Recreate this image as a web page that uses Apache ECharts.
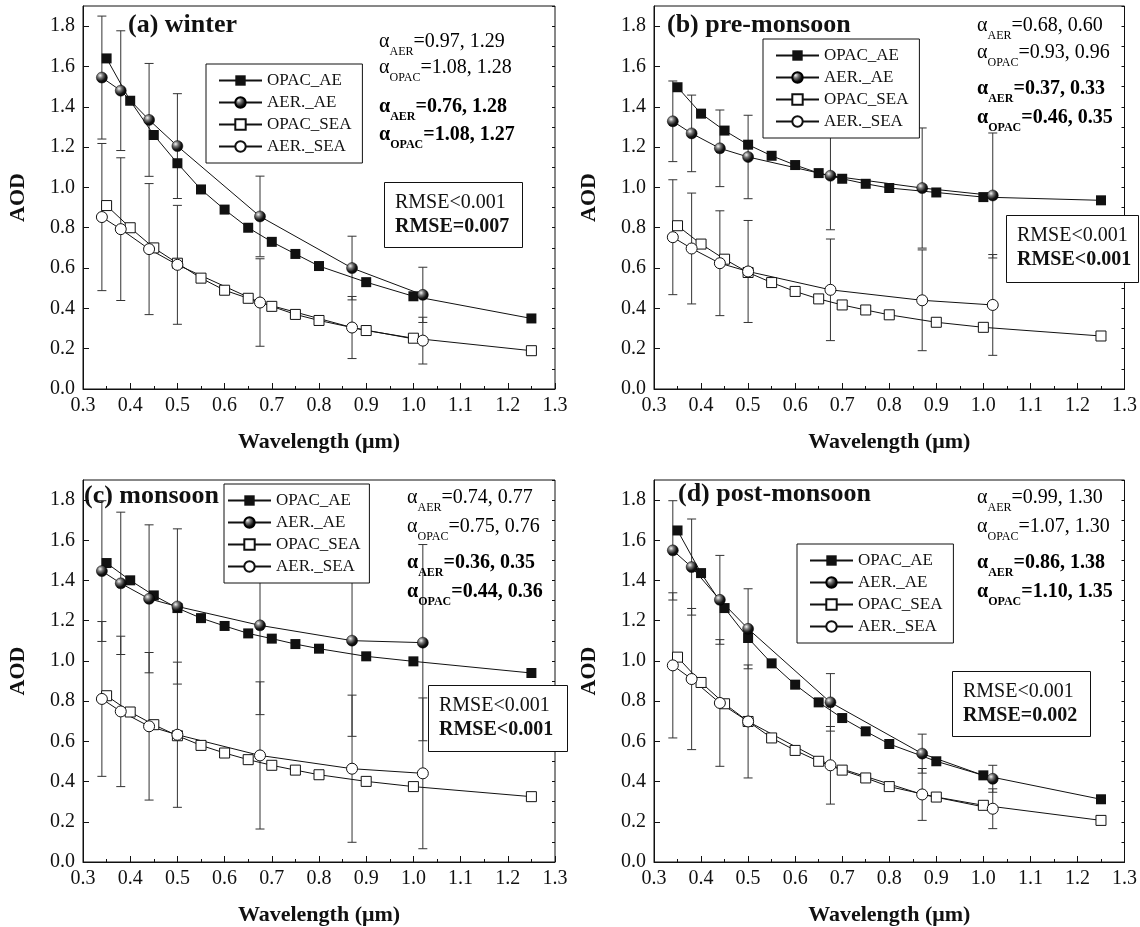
<!DOCTYPE html>
<html>
<head>
<meta charset="utf-8">
<title>AOD vs wavelength</title>
<script src="https://cdn.jsdelivr.net/npm/echarts@6/dist/echarts.min.js"></script>
<style>
  html, body { margin: 0; padding: 0; background: #fff; }
  #chart { width: 1140px; height: 927px; }
</style>
</head>
<body>
<div id="chart"></div>
<script>
// wavelengths (um)
var opacWl = [0.35, 0.4, 0.45, 0.5, 0.55, 0.6, 0.65, 0.7, 0.75, 0.8, 0.9, 1.0, 1.25];
var aerWl = [0.34, 0.38, 0.44, 0.5, 0.675, 0.87, 1.02];

// (a) winter
var winterOpacAE = [1.64, 1.43, 1.26, 1.12, 0.99, 0.89, 0.80, 0.73, 0.67, 0.61, 0.53, 0.46, 0.35];
var winterAerAE = [1.545, 1.48, 1.335, 1.205, 0.856, 0.60, 0.467];
var winterAerAEErr = [0.305, 0.297, 0.28, 0.26, 0.20, 0.158, 0.137];
var winterOpacSEA = [0.91, 0.80, 0.70, 0.624, 0.55, 0.49, 0.45, 0.41, 0.37, 0.34, 0.29, 0.252, 0.19];
var winterAerSEA = [0.853, 0.793, 0.694, 0.616, 0.429, 0.305, 0.240];
var winterAerSEAErr = [0.365, 0.354, 0.325, 0.295, 0.217, 0.154, 0.116];

// (b) pre-monsoon
var preOpacAE = [1.497, 1.366, 1.282, 1.212, 1.157, 1.111, 1.071, 1.043, 1.018, 0.997, 0.975, 0.952, 0.936];
var preAerAE = [1.328, 1.268, 1.194, 1.151, 1.058, 0.997, 0.960];
var preAerAEErr = [0.20, 0.19, 0.19, 0.207, 0.268, 0.298, 0.31];
var preOpacSEA = [0.81, 0.719, 0.644, 0.578, 0.528, 0.484, 0.447, 0.417, 0.392, 0.368, 0.331, 0.306, 0.263];
var preAerSEA = [0.753, 0.697, 0.624, 0.583, 0.492, 0.440, 0.417];
var preAerSEAErr = [0.285, 0.275, 0.26, 0.253, 0.252, 0.25, 0.25];

// (c) monsoon
var monOpacAE = [1.487, 1.401, 1.326, 1.263, 1.213, 1.174, 1.137, 1.111, 1.084, 1.061, 1.023, 0.998, 0.940];
var monAerAE = [1.447, 1.386, 1.309, 1.271, 1.177, 1.101, 1.091];
var monAerAEErr = [0.35, 0.354, 0.368, 0.386, 0.444, 0.476, 0.488];
var monOpacSEA = [0.827, 0.746, 0.683, 0.628, 0.580, 0.542, 0.509, 0.481, 0.457, 0.434, 0.401, 0.375, 0.325];
var monAerSEA = [0.811, 0.749, 0.675, 0.633, 0.530, 0.464, 0.441];
var monAerSEAErr = [0.385, 0.374, 0.367, 0.361, 0.366, 0.366, 0.375];

// (d) post-monsoon
var postOpacAE = [1.649, 1.437, 1.263, 1.114, 0.988, 0.882, 0.794, 0.716, 0.650, 0.587, 0.501, 0.431, 0.312];
var postAerAE = [1.550, 1.467, 1.304, 1.160, 0.794, 0.539, 0.414];
var postAerAEErr = [0.247, 0.239, 0.221, 0.199, 0.143, 0.097, 0.067];
var postOpacSEA = [1.019, 0.893, 0.787, 0.699, 0.617, 0.555, 0.501, 0.457, 0.418, 0.375, 0.323, 0.282, 0.207];
var postAerSEA = [0.978, 0.910, 0.791, 0.699, 0.481, 0.336, 0.265];
var postAerSEAErr = [0.361, 0.351, 0.315, 0.281, 0.193, 0.129, 0.099];

// annotation texts
var panelTitles = ['(a) winter', '(b) pre-monsoon', '(c) monsoon', '(d) post-monsoon'];
var alphaAer = ['0.97, 1.29', '0.68, 0.60', '0.74, 0.77', '0.99, 1.30'];
var alphaOpac = ['1.08, 1.28', '0.93, 0.96', '0.75, 0.76', '1.07, 1.30'];
var alphaAerBold = ['0.76, 1.28', '0.37, 0.33', '0.36, 0.35', '0.86, 1.38'];
var alphaOpacBold = ['1.08, 1.27', '0.46, 0.35', '0.44, 0.36', '1.10, 1.35'];
var rmseNormal = ['RMSE<0.001', 'RMSE<0.001', 'RMSE<0.001', 'RMSE<0.001'];
var rmseBold = ['RMSE=0.007', 'RMSE<0.001', 'RMSE<0.001', 'RMSE=0.002'];
var seriesNames = ['OPAC_AE', 'AER._AE', 'OPAC_SEA', 'AER._SEA'];

var panels = [
  { opacAE: winterOpacAE, aerAE: winterAerAE, aerAEErr: winterAerAEErr, opacSEA: winterOpacSEA, aerSEA: winterAerSEA, aerSEAErr: winterAerSEAErr },
  { opacAE: preOpacAE, aerAE: preAerAE, aerAEErr: preAerAEErr, opacSEA: preOpacSEA, aerSEA: preAerSEA, aerSEAErr: preAerSEAErr },
  { opacAE: monOpacAE, aerAE: monAerAE, aerAEErr: monAerAEErr, opacSEA: monOpacSEA, aerSEA: monAerSEA, aerSEAErr: monAerSEAErr },
  { opacAE: postOpacAE, aerAE: postAerAE, aerAEErr: postAerAEErr, opacSEA: postOpacSEA, aerSEA: postAerSEA, aerSEAErr: postAerSEAErr }
];

// layout of each panel (pixels)
var layout = [
  { grid: [83, 6, 472, 383], title: [128, 26], legend: [206, 64], legendPad: [8, 11, 8, 12], alphaX: 379, alphaY: [42, 68, 107, 135], rmse: [384, 182, 138, 65] },
  { grid: [654, 6, 471, 383], title: [667, 26], legend: [763, 39], legendPad: [8, 11, 8, 12], alphaX: 977, alphaY: [26, 53, 89, 118], rmse: [1006, 215, 132, 67] },
  { grid: [83, 480, 472, 382], title: [84, 497], legend: [224, 484], legendPad: [8, 9, 8, 3], alphaX: 407, alphaY: [498, 527, 563, 592], rmse: [428, 685, 139, 66] },
  { grid: [654, 480, 471, 382], title: [678, 495], legend: [797, 544], legendPad: [8, 11, 8, 12], alphaX: 977, alphaY: [498, 527, 563, 592], rmse: [952, 671, 138, 65] }
];

var FONT = 'Liberation Serif';
var INK = '#111';
var sphere = {
  type: 'radial', x: 0.35, y: 0.32, r: 0.75,
  colorStops: [
    { offset: 0, color: '#f4f4f4' },
    { offset: 0.3, color: '#777' },
    { offset: 0.65, color: '#151515' },
    { offset: 1, color: '#000' }
  ]
};

function pairs(xs, ys) {
  return xs.map(function (x, i) { return [x, ys[i]]; });
}
function errRows(xs, ys, es) {
  return xs.map(function (x, i) { return [x, ys[i] - es[i], ys[i] + es[i]]; });
}

function renderErr(params, api) {
  var x = api.value(0);
  var lo = api.coord([x, api.value(1)]);
  var hi = api.coord([x, api.value(2)]);
  var w = 4.5;
  var st = { stroke: '#333', lineWidth: 1 };
  return {
    type: 'group',
    children: [
      { type: 'line', shape: { x1: lo[0], y1: lo[1], x2: hi[0], y2: hi[1] }, style: st },
      { type: 'line', shape: { x1: lo[0] - w, y1: lo[1], x2: lo[0] + w, y2: lo[1] }, style: st },
      { type: 'line', shape: { x1: hi[0] - w, y1: hi[1], x2: hi[0] + w, y2: hi[1] }, style: st }
    ]
  };
}

function alphaRich(bold) {
  var w = bold ? 'bold' : 'normal';
  var main = { fontFamily: FONT, fontSize: 20, fontWeight: w, lineHeight: 20, verticalAlign: 'top', color: INK };
  return {
    a: main,
    n: main,
    s: { fontFamily: FONT, fontSize: 12, fontWeight: w, lineHeight: 12, padding: [14, 0, 0, 0], verticalAlign: 'top', color: INK }
  };
}

var grids = [], xAxes = [], yAxes = [], series = [], legends = [], graphics = [];

panels.forEach(function (p, i) {
  var L = layout[i];
  grids.push({
    left: L.grid[0], top: L.grid[1], width: L.grid[2], height: L.grid[3],
    show: true, borderColor: INK, borderWidth: 1, backgroundColor: 'transparent'
  });
  xAxes.push({
    gridIndex: i, type: 'value', min: 0.3, max: 1.3, interval: 0.1,
    axisLine: { onZero: false, lineStyle: { color: INK } },
    axisTick: { inside: true, length: 6, lineStyle: { color: INK } },
    minorTick: { show: true, splitNumber: 2, length: 3, lineStyle: { color: INK } },
    splitLine: { show: false },
    axisLabel: {
      margin: 7, fontFamily: FONT, fontSize: 20, color: INK,
      formatter: function (v) { return v.toFixed(1); }
    },
    name: 'Wavelength (\u03bcm)', nameLocation: 'middle', nameGap: 42,
    nameTextStyle: { fontFamily: FONT, fontSize: 22, fontWeight: 'bold', color: INK }
  });
  // main y axis (major ticks + labels)
  yAxes.push({
    gridIndex: i, type: 'value', min: 0, max: 1.9, interval: 0.2,
    axisLine: { lineStyle: { color: INK } },
    axisTick: { inside: true, length: 6, lineStyle: { color: INK } },
    splitLine: { show: false },
    axisLabel: {
      margin: 8, fontFamily: FONT, fontSize: 20, color: INK, showMaxLabel: false,
      formatter: function (v) { return v.toFixed(1); }
    },
    name: 'AOD', nameLocation: 'middle', nameGap: 54, nameRotate: 90,
    nameTextStyle: { fontFamily: FONT, fontSize: 22, fontWeight: 'bold', color: INK }
  });
  // minor y ticks
  yAxes.push({
    gridIndex: i, type: 'value', min: 0, max: 1.9, interval: 0.1,
    axisLine: { show: false },
    axisTick: { inside: true, length: 3, lineStyle: { color: INK } },
    splitLine: { show: false },
    axisLabel: { show: false }
  });

  var yi = i * 2;
  var common = { xAxisIndex: i, yAxisIndex: yi, lineStyle: { color: INK, width: 1 }, z: 3, animation: false };

  series.push({
    type: 'custom', name: 'errAE' + i, xAxisIndex: i, yAxisIndex: yi, renderItem: renderErr,
    encode: { x: 0, y: [1, 2] }, data: errRows(aerWl, p.aerAE, p.aerAEErr), z: 2, animation: false
  });
  series.push({
    type: 'custom', name: 'errSEA' + i, xAxisIndex: i, yAxisIndex: yi, renderItem: renderErr,
    encode: { x: 0, y: [1, 2] }, data: errRows(aerWl, p.aerSEA, p.aerSEAErr), z: 2, animation: false
  });
  series.push(Object.assign({}, common, {
    type: 'line', name: 'OPAC_AE', data: pairs(opacWl, p.opacAE),
    symbol: 'rect', symbolSize: 10, itemStyle: { color: INK }
  }));
  series.push(Object.assign({}, common, {
    type: 'line', name: 'AER._AE', data: pairs(aerWl, p.aerAE),
    symbol: 'circle', symbolSize: 11, itemStyle: { color: sphere, borderColor: '#000', borderWidth: 0.5 }
  }));
  series.push(Object.assign({}, common, {
    type: 'line', name: 'OPAC_SEA', data: pairs(opacWl, p.opacSEA),
    symbol: 'rect', symbolSize: 10, itemStyle: { color: '#fff', borderColor: INK, borderWidth: 1 }
  }));
  series.push(Object.assign({}, common, {
    type: 'line', name: 'AER._SEA', data: pairs(aerWl, p.aerSEA),
    symbol: 'circle', symbolSize: 11, itemStyle: { color: '#fff', borderColor: INK, borderWidth: 1 }
  }));

  legends.push({
    data: seriesNames, orient: 'vertical', left: L.legend[0], top: L.legend[1],
    backgroundColor: '#fff', borderColor: INK, borderWidth: 1, borderRadius: 0,
    padding: L.legendPad, itemWidth: 43, itemHeight: 13, itemGap: 5,
    selectedMode: false,
    textStyle: { fontFamily: FONT, fontSize: 17, lineHeight: 17, color: INK }
  });

  graphics.push({
    type: 'text', left: L.title[0], top: L.title[1] - 14, z: 20,
    style: { text: panelTitles[i], fontFamily: FONT, fontSize: 26, fontWeight: 'bold', fill: INK }
  });
  var lines = [
    ['AER', alphaAer[i], false], ['OPAC', alphaOpac[i], false],
    ['AER', alphaAerBold[i], true], ['OPAC', alphaOpacBold[i], true]
  ];
  lines.forEach(function (ln, k) {
    graphics.push({
      type: 'text', left: L.alphaX, top: L.alphaY[k] - 10, z: 20,
      style: { text: '{a|\u03b1}{s|' + ln[0] + '}{n|=' + ln[1] + '}', rich: alphaRich(ln[2]) }
    });
  });
  var r = L.rmse;
  graphics.push({
    type: 'rect', left: r[0], top: r[1], z: 20,
    shape: { width: r[2], height: r[3] },
    style: { fill: '#fff', stroke: INK, lineWidth: 1 }
  });
  graphics.push({
    type: 'text', left: r[0] + 11, top: r[1] + 11, z: 21,
    style: { text: rmseNormal[i], fontFamily: FONT, fontSize: 20, fill: INK }
  });
  graphics.push({
    type: 'text', left: r[0] + 11, top: r[1] + 35, z: 21,
    style: { text: rmseBold[i], fontFamily: FONT, fontSize: 20, fontWeight: 'bold', fill: INK }
  });
});

var chart = echarts.init(document.getElementById('chart'), null, { renderer: 'canvas' });
chart.setOption({
  backgroundColor: '#fff',
  animation: false,
  grid: grids,
  xAxis: xAxes,
  yAxis: yAxes,
  legend: legends,
  series: series,
  graphic: graphics
});
</script>
</body>
</html>
